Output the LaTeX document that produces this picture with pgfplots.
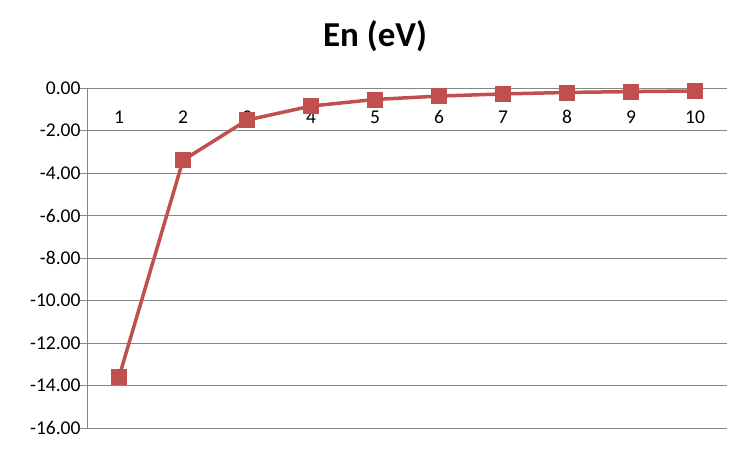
\documentclass[border=0pt]{standalone}
\usepackage{pgfplots}
\pgfplotsset{compat=1.18}
\usepackage{fontspec}
\setmainfont{Carlito}
\definecolor{linered}{HTML}{C0504D}
\definecolor{axgray}{HTML}{868686}

\begin{document}
\begin{tikzpicture}
\path[use as bounding box] (0,0) rectangle (751bp,451bp);
\begin{axis}[
  at={(87bp,23bp)}, anchor=south west,
  scale only axis, width=640bp, height=340bp,
  xmin=0.5, xmax=10.5, ymin=-16, ymax=0,
  axis y line*=left, axis x line*=top,
  axis line style={axgray, line width=0.8bp, -},
  xtick={1,...,10},
  xtick style={draw=none},
  extra x ticks={1.5,2.5,...,10.5},
  extra x tick labels={},
  extra x tick style={tick align=inside, major tick length=6bp, tick style={axgray, line width=0.8bp}},
  xticklabel style={anchor=center, yshift=-36bp},
  yticklabel style={xshift=4bp},
  ytick={-16,-14,...,0},
  ytick style={axgray, line width=0.8bp},
  tick align=outside, major tick length=7bp,
  ymajorgrids, grid style={axgray, line width=0.8bp},
  tick label style={font=\fontsize{19.5bp}{22bp}\selectfont, black},
  /pgf/number format/assume math mode=true,
  yticklabel={\pgfmathprintnumber[fixed, fixed zerofill, precision=2]{\tick}},
  title={\textbf{En (eV)}},
  title style={font=\fontsize{35bp}{40bp}\selectfont, anchor=center, at={(0.5,1)}, yshift=46bp, xshift=-32bp},
]
\addplot[linered, line width=3.5bp, mark=square*, mark size=7.5bp, mark options={fill=linered, draw=linered, line width=0.5bp}]
  coordinates {(1,-13.6)(2,-3.4)(3,-1.51)(4,-0.85)(5,-0.54)(6,-0.38)(7,-0.28)(8,-0.21)(9,-0.17)(10,-0.14)};
\end{axis}
\end{tikzpicture}
\end{document}
